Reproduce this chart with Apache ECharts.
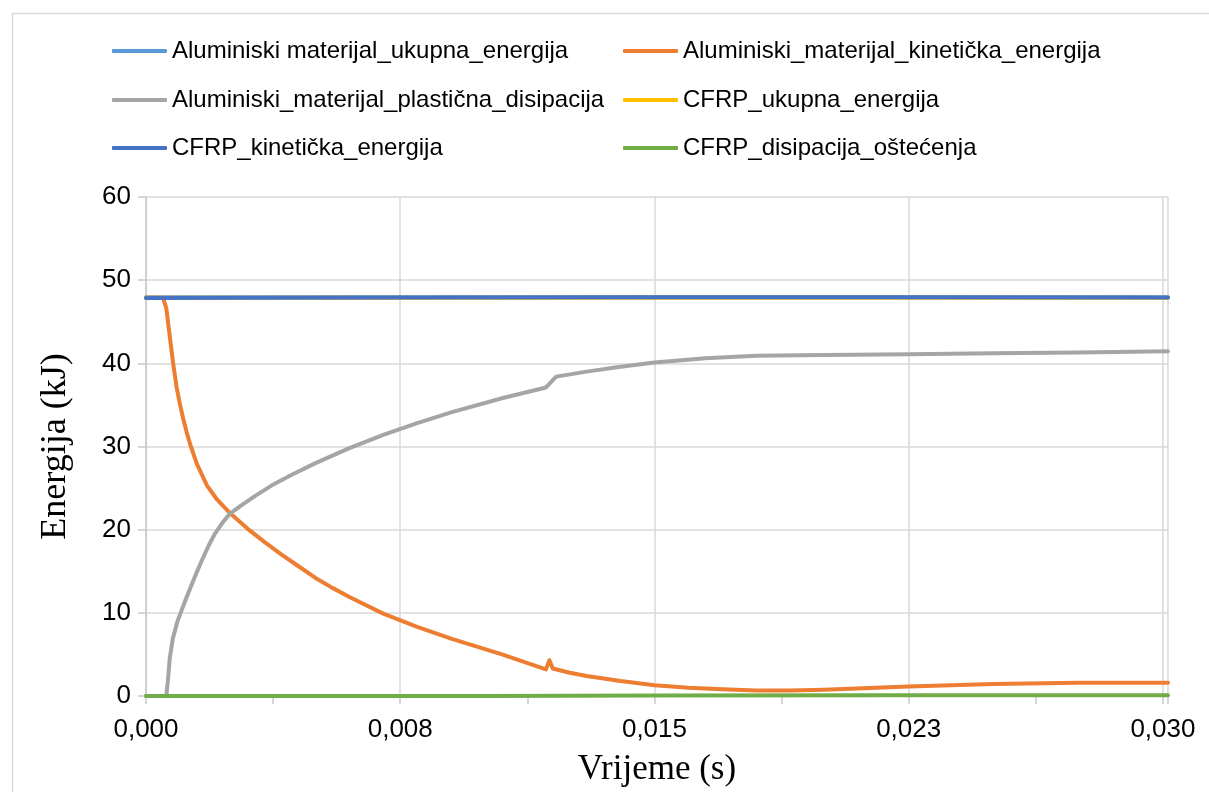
<!DOCTYPE html>
<html lang="hr">
<head>
<meta charset="UTF-8">
<title>Energija</title>
<script src="https://cdn.jsdelivr.net/npm/echarts@6/dist/echarts.min.js"></script>
<style>
  html, body { margin: 0; padding: 0; background: #fff; }
  #chart { width: 1209px; height: 792px; }
</style>
</head>
<body>
<div id="chart"></div>
<script>
// nazivi serija
const seriesNames = [
  'Aluminiski materijal_ukupna_energija',
  'Aluminiski_materijal_kinetička_energija',
  'Aluminiski_materijal_plastična_disipacija',
  'CFRP_ukupna_energija',
  'CFRP_kinetička_energija',
  'CFRP_disipacija_oštećenja'
];
const colors = ['#5B9BD5', '#ED7D31', '#A5A5A5', '#FFC000', '#4472C4', '#70AD47'];

// vrijeme (s) i energija (kJ), očitano sa slike
const alUkupnaT = [0, 0.005, 0.010, 0.015, 0.020, 0.025, 0.03015];
const alUkupnaE = [47.95, 47.95, 47.95, 47.95, 47.95, 47.95, 47.95];

const alKinT = [0, 0.0005, 0.0006, 0.0007, 0.0008, 0.0009, 0.001, 0.0011, 0.0012, 0.0013, 0.0015,
  0.0018, 0.0021, 0.0025, 0.003, 0.0035, 0.004, 0.0045, 0.005, 0.0055, 0.006, 0.007, 0.008, 0.009,
  0.0105, 0.0118, 0.0119, 0.0120, 0.0125, 0.013, 0.014, 0.015, 0.016, 0.017, 0.018, 0.019, 0.020,
  0.0225, 0.025, 0.0275, 0.030, 0.03015];
const alKinE = [47.9, 47.9, 46.6, 43.3, 40.0, 37.2, 35.1, 33.3, 31.7, 30.3, 27.9,
  25.3, 23.6, 21.9, 20.1, 18.5, 17.0, 15.6, 14.2, 13.0, 11.9, 9.9, 8.3, 6.9,
  5.0, 3.2, 4.3, 3.3, 2.8, 2.4, 1.8, 1.3, 1.0, 0.8, 0.65, 0.65, 0.75,
  1.15, 1.45, 1.6, 1.6, 1.6];

const alPlastT = [0, 0.0006, 0.00065, 0.0007, 0.00079, 0.00093, 0.00105, 0.0012, 0.00135, 0.0015,
  0.00167, 0.00185, 0.00203, 0.00225, 0.00247, 0.0028, 0.0032, 0.0037, 0.0043, 0.005, 0.006, 0.007,
  0.008, 0.009, 0.0105, 0.0118, 0.0121, 0.013, 0.014, 0.015, 0.0165, 0.018, 0.020, 0.0225, 0.025,
  0.0275, 0.03015];
const alPlastE = [0, 0, 2.0, 4.5, 6.9, 9.0, 10.3, 11.9, 13.4, 14.9,
  16.5, 18.1, 19.5, 20.8, 21.9, 22.9, 24.0, 25.3, 26.6, 28.0, 29.8, 31.4,
  32.8, 34.1, 35.8, 37.1, 38.4, 39.0, 39.6, 40.1, 40.6, 40.9, 41.0, 41.1, 41.2,
  41.3, 41.45];

const cfrpUkupnaT = [0, 0.010, 0.020, 0.03015];
const cfrpUkupnaE = [47.9, 47.9, 47.9, 47.9];

const cfrpKinT = [0, 0.003, 0.008, 0.015, 0.022, 0.03015];
const cfrpKinE = [47.85, 47.88, 47.92, 47.95, 47.95, 47.92];

const cfrpDisT = [0, 0.010, 0.015, 0.022, 0.03015];
const cfrpDisE = [0, 0, 0.05, 0.08, 0.1];

const times = [alUkupnaT, alKinT, alPlastT, cfrpUkupnaT, cfrpKinT, cfrpDisT];
const energies = [alUkupnaE, alKinE, alPlastE, cfrpUkupnaE, cfrpKinE, cfrpDisE];

const xTicks = ['0,000', '0,008', '0,015', '0,023', '0,030'];

const chart = echarts.init(document.getElementById('chart'));

// legenda: dva stupca, tri reda
const legendPos = [[112, 51], [623, 51], [112, 100], [623, 100], [112, 148], [623, 148]];
const legends = seriesNames.map((n, i) => ({
  data: [n],
  left: legendPos[i][0],
  top: legendPos[i][1] - 13,
  padding: 0,
  icon: 'roundRect',
  itemWidth: 55,
  itemHeight: 4,
  selectedMode: false,
  textStyle: { fontFamily: 'Liberation Sans', fontSize: 24, color: '#000', lineHeight: 26, padding: [0, 0, 0, 0] }
}));

const series = seriesNames.map((n, i) => ({
  name: n,
  type: 'line',
  showSymbol: false,
  symbol: 'none',
  color: colors[i],
  lineStyle: { width: 4, color: colors[i], cap: 'round', join: 'round' },
  z: 2 + i,
  data: times[i].map((t, k) => [t, energies[i][k]])
}));

const option = {
  backgroundColor: '#fff',
  animation: false,
  graphic: [{
    type: 'rect',
    left: 10, top: 11,
    shape: { width: 1300, height: 900 },
    style: { fill: 'none', stroke: '#d9d9d9', lineWidth: 1.5 },
    silent: true
  }],
  legend: legends,
  grid: { left: 146, right: 41, top: 197, bottom: 94 },
  xAxis: {
    type: 'value',
    min: 0,
    max: 0.03015,
    interval: 0.0075,
    name: 'Vrijeme (s)',
    nameLocation: 'middle',
    nameGap: 56,
    nameTextStyle: { fontFamily: 'Liberation Serif', fontSize: 35, color: '#000' },
    axisLine: { lineStyle: { color: '#c9c9c9', width: 1.5 } },
    axisTick: { show: true, length: 8, lineStyle: { color: '#c9c9c9', width: 1.5 } },
    minorTick: { show: true, splitNumber: 2, length: 8, lineStyle: { color: '#c9c9c9', width: 1.5 } },
    splitLine: { show: true, lineStyle: { color: '#d9d9d9', width: 1.5 } },
    axisLabel: {
      margin: 21,
      fontFamily: 'Liberation Sans',
      fontSize: 26,
      color: '#000',
      showMaxLabel: false,
      formatter: v => {
        const k = v / 0.0075;
        if (Math.abs(k - Math.round(k)) > 0.01) return '';
        return xTicks[Math.round(k)] || '';
      }
    }
  },
  yAxis: {
    type: 'value',
    min: 0,
    max: 60,
    interval: 10,
    name: 'Energija (kJ)',
    nameLocation: 'middle',
    nameGap: 72,
    nameTextStyle: { fontFamily: 'Liberation Serif', fontSize: 36, color: '#000' },
    axisLine: { show: true, lineStyle: { color: '#c9c9c9', width: 1.5 } },
    axisTick: { show: true, length: 8, lineStyle: { color: '#c9c9c9', width: 1.5 } },
    splitLine: { show: true, lineStyle: { color: '#d9d9d9', width: 1.5 } },
    axisLabel: { margin: 15, fontFamily: 'Liberation Sans', fontSize: 26, color: '#000' }
  },
  series: series
};

chart.setOption(option);
</script>
</body>
</html>
